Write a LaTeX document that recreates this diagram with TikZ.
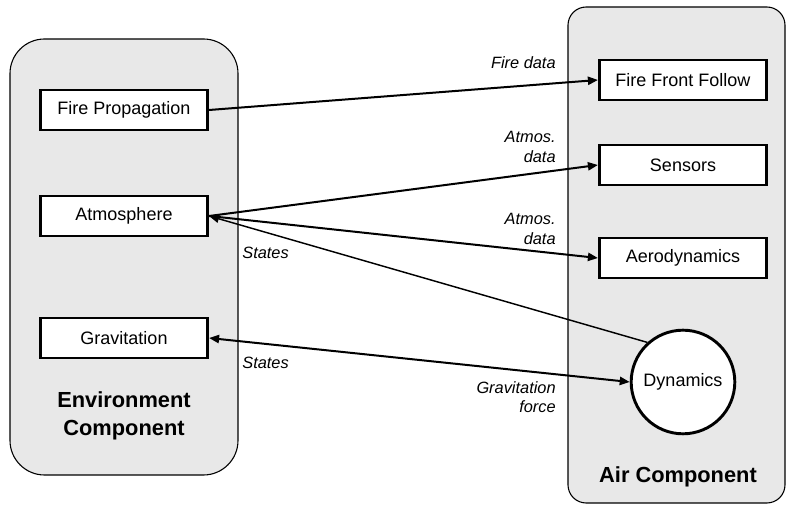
\documentclass[tikz,border=0pt]{standalone}
\usepackage{fontspec}
\setmainfont{Liberation Sans}
\usetikzlibrary{arrows.meta}
\definecolor{panelgray}{HTML}{E8E8E8}
\tikzset{
  block/.style={draw, line width=1.6pt, fill=white, minimum width=92pt, minimum height=22pt, inner sep=0pt, font=\fontsize{9.9}{12}\selectfont},
  panel/.style={draw, line width=0.6pt, fill=panelgray},
  flow/.style={line width=1.1pt, -{Triangle[length=5.5pt,width=4.5pt]}},
  tag/.style={font=\fontsize{9}{10.5}\selectfont\itshape, align=right, inner sep=0pt},
  title/.style={font=\fontsize{12}{15}\selectfont\bfseries, align=center},
}
\begin{document}
\begin{tikzpicture}[x=0.55pt, y=-0.55pt]
    \useasboundingbox (0,0) rectangle (786,505);

    \draw[panel, rounded corners=19pt] (10,39) rectangle (238,475);
    \draw[panel, rounded corners=10pt] (568,7) rectangle (785,503);

    \node[block] (fire) at (124,110) {Fire Propagation};
    \node[block] (atm)  at (124,216) {Atmosphere};
    \node[block] (grav) at (124,338) {Gravitation};
    \node[title] (envtitle) at (124,416) {Environment\\Component};

    \node[block] (front) at (683,80)  {Fire Front Follow};
    \node[block] (sens)  at (683,165) {Sensors};
    \node[block] (aero)  at (683,258) {Aerodynamics};
    \node[draw, circle, line width=1.6pt, fill=white, minimum size=57pt, inner sep=0pt, font=\fontsize{9.9}{12}\selectfont] (dyn) at (683,382) {Dynamics};
    \node[title] (airtitle) at (678,477) {Air Component};

    \draw[flow] (fire.east) -- (front.west);
    \draw[flow] (atm.east) -- (sens.west);
    \draw[flow] (atm.east) -- (aero.west);
    \draw[flow, line width=0.8pt] (dyn.132) -- (atm.east);
    \draw[flow, {Triangle[length=5.5pt,width=4.5pt]}-{Triangle[length=5.5pt,width=4.5pt]}] (grav.east) -- (dyn.west);

    \node[tag, anchor=east] (firedata) at (556,63) {Fire data};
    \node[tag, anchor=east] (atmdata1) at (556,147) {Atmos.\\data};
    \node[tag, anchor=east] (atmdata2) at (556,229) {Atmos.\\data};
    \node[tag, anchor=east] (gravforce) at (556,397) {Gravitation\\force};
    \node[tag, anchor=west] (states1) at (242,253) {States};
    \node[tag, anchor=west] (states2) at (242,363) {States};
\end{tikzpicture}
\end{document}
